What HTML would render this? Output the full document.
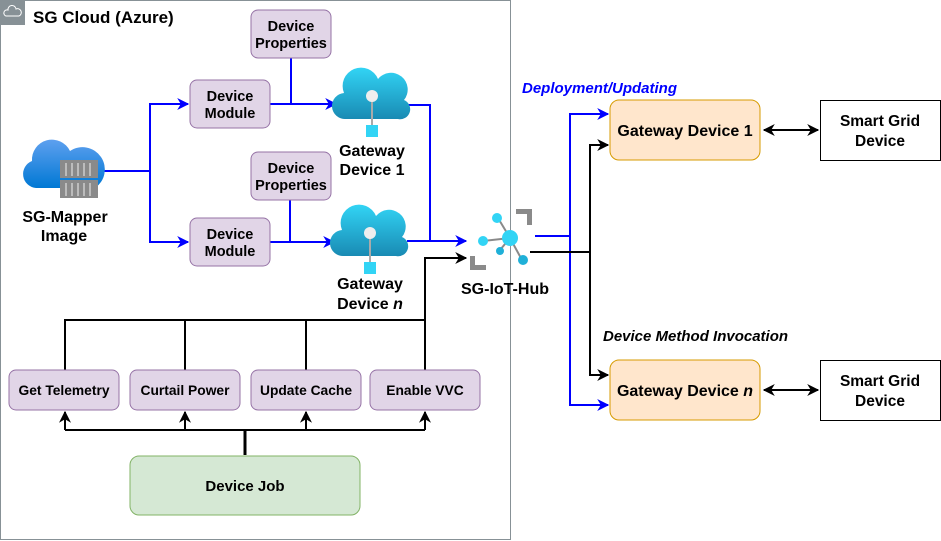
<!DOCTYPE html>
<html><head><meta charset="utf-8"><style>
body{margin:0;background:#fff;}
svg{display:block;font-family:"Liberation Sans",sans-serif;}
.b{font-weight:bold;fill:#000;}
</style></head><body>
<svg width="941" height="541" viewBox="0 0 941 541" xmlns="http://www.w3.org/2000/svg">
<defs>
<linearGradient id="cg" x1="0" y1="0" x2="0" y2="1"><stop offset="0" stop-color="#32d4f5"/><stop offset="1" stop-color="#198ab3"/></linearGradient>
<linearGradient id="cb" x1="0" y1="0" x2="0" y2="1"><stop offset="0" stop-color="#5ea0ef"/><stop offset="1" stop-color="#0078d4"/></linearGradient>
<marker id="ab" viewBox="0 0 10 10" refX="9" refY="5" markerUnits="userSpaceOnUse" markerWidth="12" markerHeight="12" orient="auto"><path d="M0,0 L10,5 L0,10 L3,5z" fill="#0000ff"/></marker>
<marker id="ak" viewBox="0 0 10 10" refX="9" refY="5" markerUnits="userSpaceOnUse" markerWidth="12" markerHeight="12" orient="auto"><path d="M0,0 L10,5 L0,10 L3,5z" fill="#000"/></marker>
<marker id="aks" viewBox="0 0 10 10" refX="1" refY="5" markerUnits="userSpaceOnUse" markerWidth="12" markerHeight="12" orient="auto"><path d="M10,0 L0,5 L10,10 L7,5z" fill="#000"/></marker>
</defs>
<rect x="0.5" y="0.5" width="510" height="539" fill="none" stroke="#879196" stroke-width="1"/>
<rect x="0" y="0" width="25" height="25" fill="#879196"/>
<path d="M6,16 a3,3 0 0 1 2,-6 a4,4 0 0 1 8,-1 a3.5,3.5 0 0 1 3,7z" fill="none" stroke="#fff" stroke-width="1"/>
<text x="33" y="23" class="b" style="font-size:17px">SG Cloud (Azure)</text>

<g stroke="#0000ff" stroke-width="2" fill="none">
<path d="M100,171 H150 V104 H188" marker-end="url(#ab)"/>
<path d="M150,171 V242 H188" marker-end="url(#ab)"/>
<path d="M270,104 H336" marker-end="url(#ab)"/>
<path d="M291,58 V104"/>
<path d="M270,242 H334" marker-end="url(#ab)"/>
<path d="M290,200 V242"/>
<path d="M408,105 H430 V241 H466" marker-end="url(#ab)"/>
<path d="M407,241 H430"/>
<path d="M535,236 H570 V114 H608" marker-end="url(#ab)"/>
<path d="M570,236 V405 H608" marker-end="url(#ab)"/>
</g>
<g stroke="#000" stroke-width="2" fill="none">
<path d="M425,370 V258 H466" marker-end="url(#ak)"/>
<path d="M65,370 V320 H425"/>
<path d="M185,370 V320"/>
<path d="M306,370 V320"/>
<path d="M65,430 H425"/>
<path d="M65,430 V412" marker-end="url(#ak)"/>
<path d="M185,430 V412" marker-end="url(#ak)"/>
<path d="M306,430 V412" marker-end="url(#ak)"/>
<path d="M425,430 V412" marker-end="url(#ak)"/>
<path d="M245,455 V430" stroke-width="3"/>
<path d="M530,252 H590 V145 H608" marker-end="url(#ak)"/>
<path d="M590,252 V375 H608" marker-end="url(#ak)"/>
<path d="M764,130 H818" marker-start="url(#aks)" marker-end="url(#ak)"/>
<path d="M764,390 H818" marker-start="url(#aks)" marker-end="url(#ak)"/>
</g>

<g fill="#e1d5e7" stroke="#9673a6">
<rect x="251" y="10" width="80" height="48" rx="7"/>
<rect x="251" y="152" width="80" height="48" rx="7"/>
<rect x="190" y="80" width="80" height="48" rx="7"/>
<rect x="190" y="218" width="80" height="48" rx="7"/>
<rect x="9" y="370" width="110" height="40" rx="7"/>
<rect x="130" y="370" width="110" height="40" rx="7"/>
<rect x="251" y="370" width="110" height="40" rx="7"/>
<rect x="370" y="370" width="110" height="40" rx="7"/>
</g>
<g class="b" text-anchor="middle" style="font-size:14.5px">
<text x="291" y="31">Device</text><text x="291" y="48">Properties</text>
<text x="291" y="173">Device</text><text x="291" y="190">Properties</text>
<text x="230" y="101">Device</text><text x="230" y="118">Module</text>
<text x="230" y="239">Device</text><text x="230" y="256">Module</text>
</g>
<g class="b" text-anchor="middle" style="font-size:13.8px">
<text x="64" y="395">Get Telemetry</text>
<text x="185" y="395">Curtail Power</text>
<text x="306" y="395">Update Cache</text>
<text x="425" y="395">Enable VVC</text>
</g>
<rect x="130" y="456" width="230" height="59" rx="9" fill="#d5e8d4" stroke="#82b366"/>
<text x="245" y="491" class="b" text-anchor="middle" style="font-size:15px">Device Job</text>

<path d="M36,188 a14,14 0 0 1 -4,-27 a20,20 0 0 1 38,-10 a17,17 0 0 1 25,37z" fill="url(#cb)"/>
<g fill="#8a8a8a"><rect x="60" y="160" width="38" height="18"/><rect x="60" y="180" width="38" height="18"/></g>
<g stroke="#ccc" stroke-width="1.5"><path d="M66,163V176M72,163V176M78,163V176M84,163V176M90,163V176M66,183V196M72,183V196M78,183V196M84,183V196M90,183V196"/></g>
<text x="65" y="222" class="b" text-anchor="middle" style="font-size:16px">SG-Mapper</text>
<text x="64" y="241" class="b" text-anchor="middle" style="font-size:16px">Image</text>

<g>
<path d="M346,119 a13,13 0 0 1 -2,-26 a18,18 0 0 1 34,-14 a15,15 0 0 1 26,21 a10,10 0 0 1 -6,19z" fill="url(#cg)"/>
<line x1="372" y1="98" x2="372" y2="125" stroke="#aaa" stroke-width="2"/>
<circle cx="372" cy="96" r="6" fill="#eee"/>
<rect x="366" y="125" width="12" height="12" fill="#32d4f5"/>
<text x="372" y="156" class="b" text-anchor="middle" style="font-size:16px">Gateway</text>
<text x="372" y="175" class="b" text-anchor="middle" style="font-size:16px">Device 1</text>
</g>
<g transform="translate(-2,137)">
<path d="M346,119 a13,13 0 0 1 -2,-26 a18,18 0 0 1 34,-14 a15,15 0 0 1 26,21 a10,10 0 0 1 -6,19z" fill="url(#cg)"/>
<line x1="372" y1="98" x2="372" y2="125" stroke="#aaa" stroke-width="2"/>
<circle cx="372" cy="96" r="6" fill="#eee"/>
<rect x="366" y="125" width="12" height="12" fill="#32d4f5"/>
<text x="372" y="152" class="b" text-anchor="middle" style="font-size:16px">Gateway</text>
<text x="372" y="172" class="b" text-anchor="middle" style="font-size:16px">Device <tspan font-style="italic">n</tspan></text>
</g>

<g>
<path d="M516,209 h16 v16 h-5 v-11 h-11z" fill="#8a8a8a"/>
<path d="M470,256 v14 h16 v-5 h-11 v-9z" fill="#8a8a8a"/>
<g stroke="#8a8a8a" stroke-width="2"><line x1="510" y1="238" x2="483" y2="241"/><line x1="510" y1="238" x2="498" y2="218"/><line x1="510" y1="238" x2="500" y2="250"/><line x1="510" y1="238" x2="522" y2="260"/></g>
<circle cx="510" cy="238" r="8" fill="#32d4f5"/>
<circle cx="483" cy="241" r="5" fill="#32d4f5"/>
<circle cx="497" cy="218" r="5" fill="#32d4f5"/>
<circle cx="500" cy="251" r="4" fill="#1fb0d8"/>
<circle cx="523" cy="260" r="5" fill="#1fb0d8"/>
<text x="505" y="294" class="b" text-anchor="middle" style="font-size:16px">SG-IoT-Hub</text>
</g>

<text x="522" y="93" font-weight="bold" font-style="italic" fill="#0000ff" style="font-size:15px">Deployment/Updating</text>
<text x="603" y="341" font-weight="bold" font-style="italic" fill="#000" style="font-size:15px">Device Method Invocation</text>
<rect x="610" y="100" width="150" height="60" rx="9" fill="#ffe6cc" stroke="#d79b00"/>
<text x="685" y="136" class="b" text-anchor="middle" style="font-size:16px">Gateway Device 1</text>
<rect x="610" y="360" width="150" height="60" rx="9" fill="#ffe6cc" stroke="#d79b00"/>
<text x="685" y="396" class="b" text-anchor="middle" style="font-size:16px">Gateway Device <tspan font-style="italic">n</tspan></text>
<rect x="820.5" y="100.5" width="120" height="60" fill="#fff" stroke="#000"/>
<text x="880" y="126" class="b" text-anchor="middle" style="font-size:15.5px">Smart Grid</text>
<text x="880" y="146" class="b" text-anchor="middle" style="font-size:15.5px">Device</text>
<rect x="820.5" y="360.5" width="120" height="60" fill="#fff" stroke="#000"/>
<text x="880" y="386" class="b" text-anchor="middle" style="font-size:15.5px">Smart Grid</text>
<text x="880" y="406" class="b" text-anchor="middle" style="font-size:15.5px">Device</text>
</svg>
</body></html>
